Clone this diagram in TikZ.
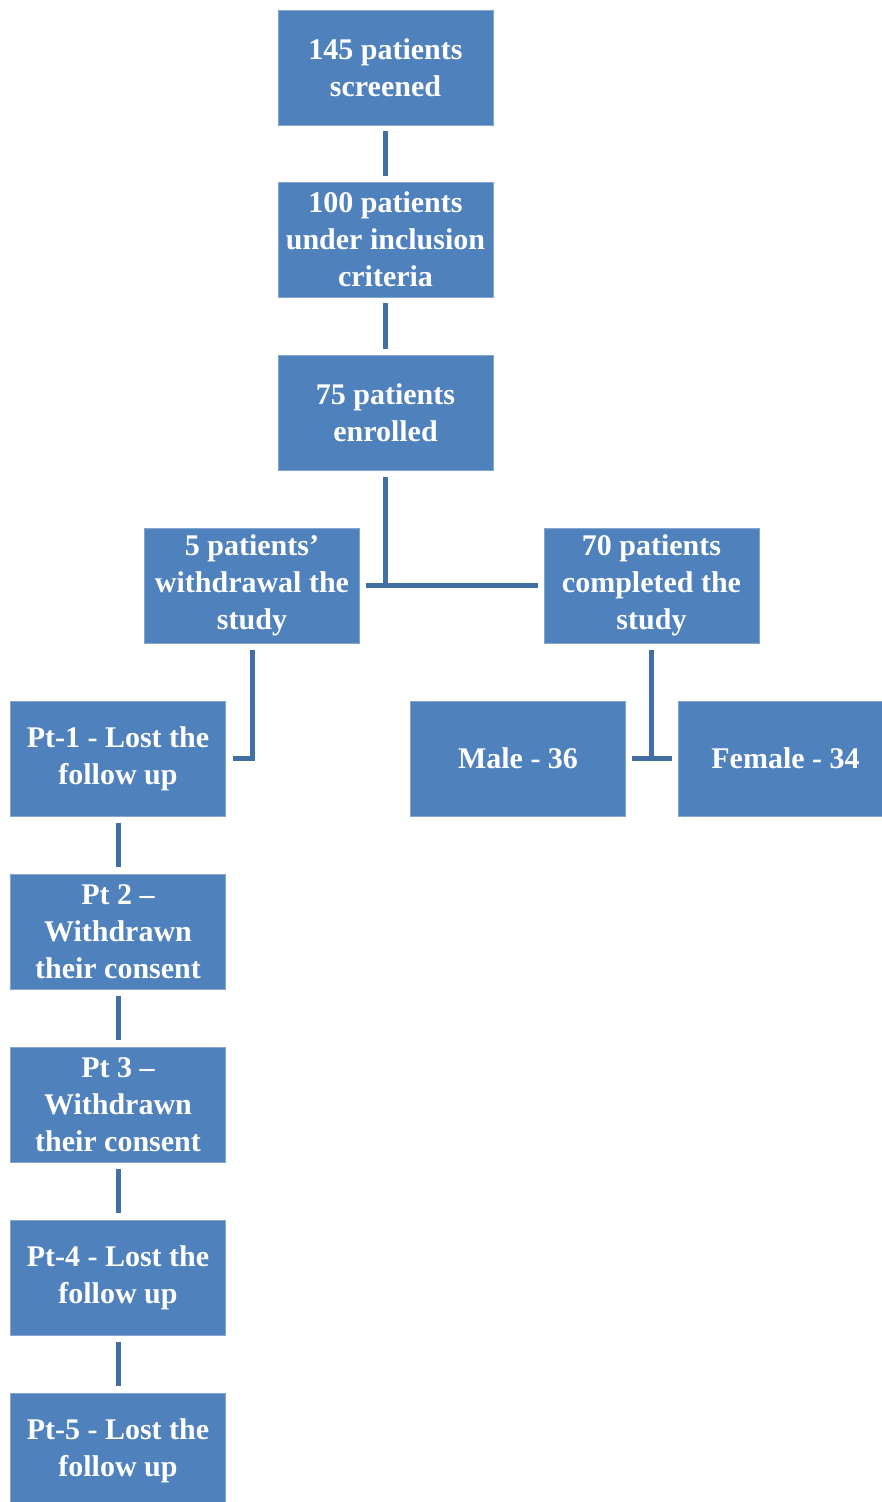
\documentclass[tikz,border=0pt]{standalone}
\usepackage{fontspec}
\setmainfont{Liberation Serif}
\definecolor{boxblue}{RGB}{79,129,189}
\definecolor{lineblue}{RGB}{66,112,165}
\begin{document}
\begin{tikzpicture}[x=1pt,y=-1pt,
  fbox/.style={rectangle, fill=boxblue, draw=boxblue!70!white, line width=0.8pt,
    minimum width=215pt, minimum height=115pt, inner sep=0pt, align=center,
    text=white, font=\fontsize{30}{37}\selectfont\bfseries},
  conn/.style={draw=lineblue, line width=5pt, line join=miter}]
\useasboundingbox (0,0) rectangle (881,1502);
\node[fbox] (b1) at (385.5,67.5) {145 patients\\screened};
\node[fbox] (b2) at (385.5,239.5) {100 patients\\under inclusion\\criteria};
\node[fbox] (b3) at (385.5,412.5) {75 patients\\enrolled};
\node[fbox] (w) at (252,585.5) {5 patients’\\withdrawal the\\study};
\node[fbox] (c) at (651.5,585.5) {70 patients\\completed the\\study};
\node[fbox] (p1) at (118,758.5) {Pt-1 - Lost the\\follow up};
\node[fbox] (m) at (518,758.5) {Male - 36};
\node[fbox] (f) at (785.5,758.5) {Female - 34};
\node[fbox] (p2) at (118,931.5) {Pt 2 –\\Withdrawn\\their consent};
\node[fbox] (p3) at (118,1104.5) {Pt 3 –\\Withdrawn\\their consent};
\node[fbox] (p4) at (118,1277.5) {Pt-4 - Lost the\\follow up};
\node[fbox] (p5) at (118,1450.5) {Pt-5 - Lost the\\follow up};
% connectors
\draw[conn] ([yshift=-6pt]b1.south) -- ([yshift=6pt]b2.north);
\draw[conn] ([yshift=-6pt]b2.south) -- ([yshift=6pt]b3.north);
\coordinate (j1) at (b3.south |- w.east);
\draw[conn] ([yshift=-7pt]b3.south) -- (j1);
\draw[conn] ([xshift=6pt]w.east) -- ([xshift=-6pt]c.west);
\coordinate (j2) at (w.south |- p1.east);
\coordinate (e1) at ([xshift=7pt]p1.east);
\draw[conn] ([yshift=-7pt]w.south) -- (j2) -- (e1);
\coordinate (j3) at (c.south |- m.east);
\draw[conn] ([yshift=-7pt]c.south) -- (j3);
\draw[conn] ([xshift=6pt]m.east) -- ([xshift=-6pt]f.west);
\draw[conn] ([yshift=-7pt]p1.south) -- ([yshift=7pt]p2.north);
\draw[conn] ([yshift=-7pt]p2.south) -- ([yshift=7pt]p3.north);
\draw[conn] ([yshift=-7pt]p3.south) -- ([yshift=7pt]p4.north);
\draw[conn] ([yshift=-7pt]p4.south) -- ([yshift=7pt]p5.north);
\end{tikzpicture}
\end{document}
